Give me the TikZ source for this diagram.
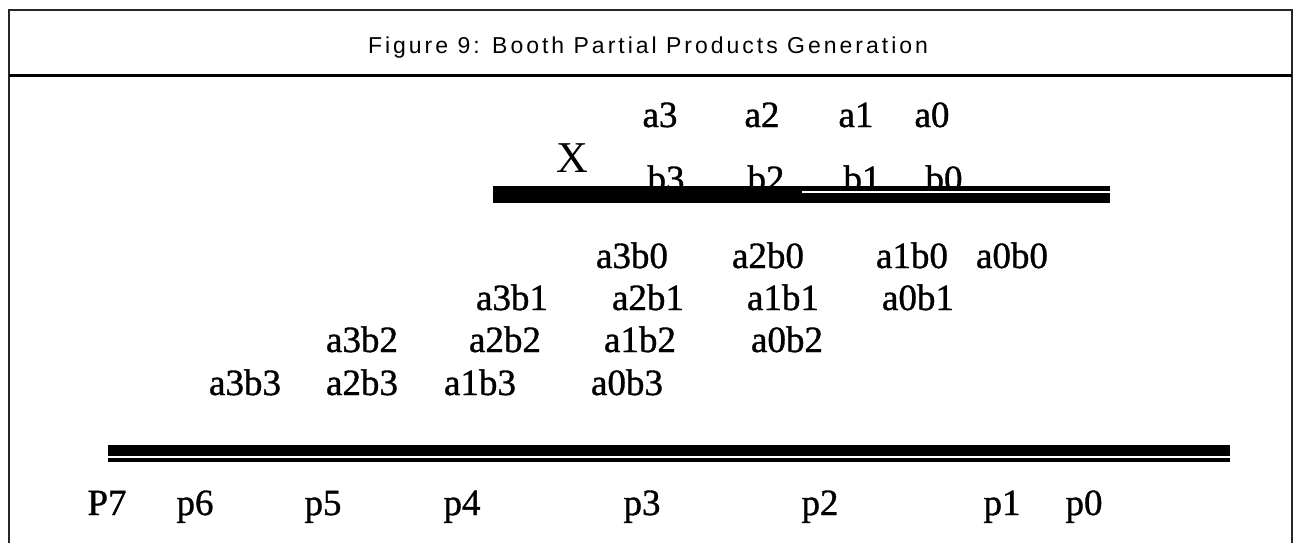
\documentclass[tikz,border=0pt]{standalone}
\usepackage{fontspec}
\setmainfont{Liberation Serif}
\newfontfamily\bitfont[FakeBold=1.0]{Liberation Serif}
\newfontfamily\titlefont[LetterSpace=13]{Liberation Sans}

\begin{document}
\begin{tikzpicture}[x=1pt, y=-1pt,
    bit/.style={font=\bitfont\fontsize{37}{42}\selectfont, inner sep=0pt, anchor=base}]
    \useasboundingbox (0,0) rectangle (1295,543);

    % Frame and title
    \draw[line width=1.5pt, black!85] (9,543) -- (9,10) -- (1292,10) -- (1292,543);
    \draw[line width=3pt] (9,75) -- (1292,75);
    \node[font=\titlefont\fontsize{23}{27}\selectfont, inner sep=0pt, anchor=base] (title) at (648,53) {Figure 9: Booth Partial Products Generation};

    % Draw nodes
    \node[bit] (a3) at (660,127) {a3};
    \node[bit] (a2) at (762,127) {a2};
    \node[bit] (a1) at (856,127) {a1};
    \node[bit] (a0) at (932,127) {a0};
    \node[font=\fontsize{44}{48}\selectfont, inner sep=0pt, anchor=base] (times) at (572,172) {X};
    \node[bit] (b3) at (666,191) {b3};
    \node[bit] (b2) at (766,191) {b2};
    \node[bit] (b1) at (862,191) {b1};
    \node[bit] (b0) at (944,191) {b0};

    % Upper rule
    \fill (493,186) rectangle (1110,203);
    \draw[white, line width=2pt] (802,192) -- (1110,192);

    % Partial products
    \node[bit] (a3b0) at (632,268) {a3b0};
    \node[bit] (a2b0) at (768,268) {a2b0};
    \node[bit] (a1b0) at (912,268) {a1b0};
    \node[bit] (a0b0) at (1012,268) {a0b0};

    \node[bit] (a3b1) at (512,310) {a3b1};
    \node[bit] (a2b1) at (648,310) {a2b1};
    \node[bit] (a1b1) at (783,310) {a1b1};
    \node[bit] (a0b1) at (918,310) {a0b1};

    \node[bit] (a3b2) at (362,352) {a3b2};
    \node[bit] (a2b2) at (505,352) {a2b2};
    \node[bit] (a1b2) at (640,352) {a1b2};
    \node[bit] (a0b2) at (787,352) {a0b2};

    \node[bit] (a3b3) at (245,395) {a3b3};
    \node[bit] (a2b3) at (362,395) {a2b3};
    \node[bit] (a1b3) at (480,395) {a1b3};
    \node[bit] (a0b3) at (627,395) {a0b3};

    % Lower rule
    \fill (108,445) rectangle (1230,456);
    \fill (108,458) rectangle (1230,462);

    % Product bits
    \node[bit] (p7) at (107,515) {P7};
    \node[bit] (p6) at (195,515) {p6};
    \node[bit] (p5) at (323,515) {p5};
    \node[bit] (p4) at (462,515) {p4};
    \node[bit] (p3) at (642,515) {p3};
    \node[bit] (p2) at (820,515) {p2};
    \node[bit] (p1) at (1002,515) {p1};
    \node[bit] (p0) at (1084,515) {p0};
\end{tikzpicture}
\end{document}
